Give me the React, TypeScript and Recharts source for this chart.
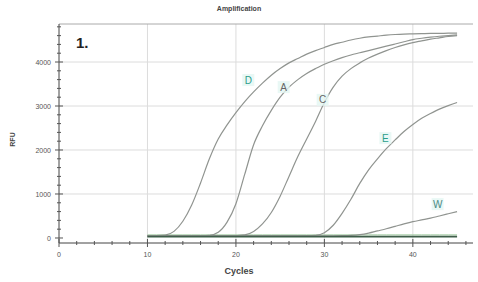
import React from 'react';
import { LineChart, Line, XAxis, YAxis, CartesianGrid, ReferenceDot, ReferenceLine } from 'recharts';

// qPCR amplification curves, cycle 10..45
const CYCLES = [10, 11, 12, 13, 14, 15, 16, 17, 18, 19, 20, 21, 22, 23, 24, 25, 26, 27, 28, 29, 30, 31, 32, 33, 34, 35, 36, 37, 38, 39, 40, 41, 42, 43, 44, 45];
const SERIES_D = [50, 52, 65, 150, 380, 750, 1250, 1800, 2250, 2570, 2850, 3100, 3320, 3520, 3700, 3850, 3980, 4080, 4180, 4260, 4330, 4400, 4450, 4500, 4540, 4570, 4590, 4610, 4625, 4635, 4640, 4645, 4650, 4650, 4655, 4655];
const SERIES_A = [50, 50, 50, 50, 50, 50, 52, 60, 130, 360, 780, 1450, 2120, 2550, 2900, 3200, 3430, 3600, 3740, 3850, 3950, 4030, 4100, 4160, 4210, 4260, 4310, 4360, 4410, 4460, 4510, 4540, 4565, 4585, 4600, 4615];
const SERIES_C = [50, 50, 50, 50, 50, 50, 50, 50, 50, 50, 55, 70, 150, 320, 580, 950, 1400, 1850, 2250, 2650, 3080, 3430, 3680, 3850, 3980, 4090, 4180, 4260, 4330, 4390, 4440, 4480, 4520, 4550, 4580, 4600];
const SERIES_E = [50, 50, 50, 50, 50, 50, 50, 50, 50, 50, 50, 50, 50, 50, 50, 50, 50, 50, 52, 60, 120, 290, 560, 880, 1240, 1550, 1800, 2030, 2230, 2420, 2580, 2720, 2830, 2930, 3010, 3080];
const SERIES_W = [50, 50, 50, 50, 50, 50, 50, 50, 50, 50, 50, 50, 50, 50, 50, 50, 50, 50, 50, 50, 50, 50, 52, 58, 75, 110, 160, 210, 265, 320, 370, 410, 450, 500, 550, 600];
const BASE_1 = [30, 30, 30, 30, 30, 30, 30, 30, 30, 30, 30, 30, 30, 30, 30, 30, 30, 30, 30, 30, 30, 30, 30, 30, 30, 30, 30, 30, 30, 30, 30, 30, 30, 30, 30, 30];
const BASE_2 = [70, 70, 70, 70, 70, 70, 70, 70, 70, 70, 70, 70, 70, 70, 70, 70, 70, 70, 70, 70, 70, 70, 70, 70, 70, 70, 70, 70, 70, 70, 70, 70, 70, 70, 70, 70];

const X_TICKS = [0, 2, 4, 6, 8, 10, 12, 14, 16, 18, 20, 22, 24, 26, 28, 30, 32, 34, 36, 38, 40, 42, 44, 46];
const Y_TICKS = [0, 200, 400, 600, 800, 1000, 1200, 1400, 1600, 1800, 2000, 2200, 2400, 2600, 2800, 3000, 3200, 3400, 3600, 3800, 4000, 4200, 4400, 4600, 4800];

// curve labels: [text, cycle, rfu, colour]
const LABELS: [string, number, number, string][] = [
  ['D', 21.4, 3590, '#2a9d8a'],
  ['A', 25.4, 3430, '#666'],
  ['C', 29.8, 3140, '#666'],
  ['E', 36.9, 2270, '#2a9d8a'],
  ['W', 42.8, 770, '#4a8a86'],
];

const X_MAX = 46.8;
const Y_MIN = -114;
const Y_MAX = 4864;

const data = CYCLES.map((c, i) => ({
  cycle: c,
  d: SERIES_D[i],
  a: SERIES_A[i],
  c: SERIES_C[i],
  e: SERIES_E[i],
  w: SERIES_W[i],
  b1: BASE_1[i],
  b2: BASE_2[i],
}));

const font = '"Liberation Sans", Arial, sans-serif';

const YTick = (props: any) => {
  const { x, y, payload } = props;
  const major = payload.value % 1000 === 0;
  return (
    <g>
      <line x1={x - (major ? 4 : 2)} x2={x + (major ? 4 : 2)} y1={y} y2={y} stroke="#555" strokeWidth={1} />
      {major && (
        <text x={x - 8} y={y} dy={3} textAnchor="end" fontSize={7} fill="#555" fontFamily={font}>
          {payload.value}
        </text>
      )}
    </g>
  );
};

const XTick = (props: any) => {
  const { x, y, payload } = props;
  const major = payload.value % 10 === 0;
  return (
    <g>
      <line x1={x} x2={x} y1={y - (major ? 4 : 2)} y2={y + (major ? 4 : 2)} stroke="#555" strokeWidth={1} />
      {major && (
        <text x={x} y={y + 14} textAnchor="middle" fontSize={7} fill="#555" fontFamily={font}>
          {payload.value}
        </text>
      )}
    </g>
  );
};

const TagLabel = (colour: string, text: string) => (props: any) => {
  const { viewBox } = props;
  const cx = viewBox.x + (viewBox.width || 0) / 2;
  const cy = viewBox.y + (viewBox.height || 0) / 2;
  return (
    <g>
      <rect x={cx - 6} y={cy - 6} width={12} height={12} fill="#e4f6f2" opacity={0.8} />
      <text x={cx} y={cy} dy={3.5} textAnchor="middle" fontSize={10} fill={colour} fontFamily={font}>
        {text}
      </text>
    </g>
  );
};

export default function App() {
  return (
    <div style={{ position: 'absolute', left: 0, top: 0, width: 478, height: 282, background: '#fff', fontFamily: font }}>
      <div style={{ position: 'absolute', left: 0, width: 478, top: 5, textAlign: 'center', fontSize: 7, fontWeight: 'bold', color: '#444' }}>
        Amplification
      </div>
      <div style={{ position: 'absolute', left: 76, top: 34, fontSize: 15, fontWeight: 'bold', color: '#222' }}>1.</div>
      <div style={{ position: 'absolute', left: 0, top: 136, width: 24, textAlign: 'center', fontSize: 7, fontWeight: 'bold', color: '#444', transform: 'rotate(-90deg)' }}>
        RFU
      </div>
      <div style={{ position: 'absolute', left: 0, width: 478, top: 266, textAlign: 'center', fontSize: 9, fontWeight: 'bold', color: '#444' }}>
        Cycles
      </div>
      <LineChart width={478} height={282} data={data} margin={{ top: 24, right: 5, left: 0, bottom: 0 }}>
        <CartesianGrid stroke="#dcdcdc" horizontalValues={[1000, 2000, 3000, 4000]} verticalValues={[10, 20, 30, 40]} />
        <ReferenceLine y={Y_MAX} stroke="#aaa" strokeWidth={1} ifOverflow="extendDomain" />
        <XAxis
          dataKey="cycle"
          type="number"
          domain={[0, X_MAX]}
          ticks={X_TICKS}
          interval={0}
          allowDataOverflow
          height={39}
          tickSize={0}
          tickMargin={0}
          tick={<XTick />}
          axisLine={{ stroke: '#444' }}
        />
        <YAxis
          type="number"
          domain={[Y_MIN, Y_MAX]}
          ticks={Y_TICKS}
          interval={0}
          allowDataOverflow
          width={59}
          tickSize={0}
          tickMargin={0}
          tick={<YTick />}
          axisLine={{ stroke: '#444' }}
        />
        <Line dataKey="b2" stroke="#9cc99c" strokeWidth={1} dot={false} isAnimationActive={false} />
        <Line dataKey="w" type="monotone" stroke="#909490" strokeWidth={1.2} dot={false} isAnimationActive={false} />
        <Line dataKey="e" type="monotone" stroke="#909490" strokeWidth={1.2} dot={false} isAnimationActive={false} />
        <Line dataKey="c" type="monotone" stroke="#909490" strokeWidth={1.2} dot={false} isAnimationActive={false} />
        <Line dataKey="a" type="monotone" stroke="#909490" strokeWidth={1.2} dot={false} isAnimationActive={false} />
        <Line dataKey="d" type="monotone" stroke="#909490" strokeWidth={1.2} dot={false} isAnimationActive={false} />
        <Line dataKey="b1" stroke="#3f5e4a" strokeWidth={1.6} dot={false} isAnimationActive={false} />
        {LABELS.map(([t, x, y, col]) => (
          <ReferenceDot key={t} x={x} y={y} r={0} fill="none" stroke="none" label={TagLabel(col, t)} />
        ))}
      </LineChart>
    </div>
  );
}
